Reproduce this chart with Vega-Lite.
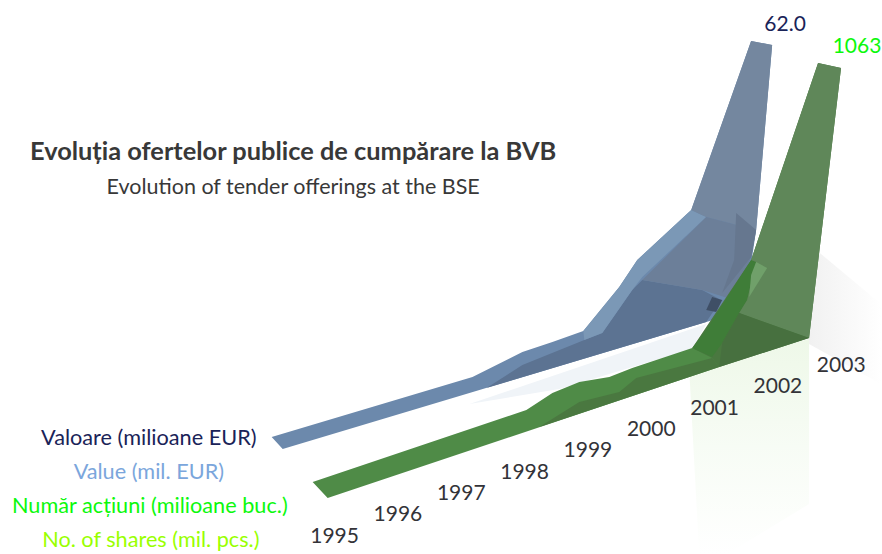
{"$schema":"https://vega.github.io/schema/vega-lite/v6.json","width":882,"height":554,"padding":0,"autosize":{"type":"fit","contains":"padding"},"background":"#ffffff","config":{"view":{"stroke":null}},
"resolve":{"scale":{"color":"independent"}},
"encoding":{"x":{"field":"year","type":"quantitative","scale":{"domain":[1989.716,2003.628],"nice":false,"zero":false},"axis":null},"y":{"field":"level","type":"quantitative","scale":{"domain":[0,110.8],"nice":false,"zero":false},"axis":null}},
"datasets":{
"faces":[
{"f":"b_base","i":1,"year":1994.006,"level":23.4},{"f":"b_base","i":2,"year":1997.177,"level":35.4},{"f":"b_base","i":3,"year":1997.965,"level":40.4},{"f":"b_base","i":4,"year":1998.439,"level":42.4},{"f":"b_base","i":5,"year":1998.927,"level":44.6},{"f":"b_base","i":6,"year":1999.495,"level":53.4},{"f":"b_base","i":7,"year":1999.779,"level":58.8},{"f":"b_base","i":8,"year":2000.631,"level":68.8},{"f":"b_base","i":9,"year":2001.577,"level":102.6},{"f":"b_base","i":10,"year":2001.909,"level":101.8},{"f":"b_base","i":11,"year":2001.656,"level":64.8},{"f":"b_base","i":12,"year":2001.467,"level":48.6},{"f":"b_base","i":13,"year":2000.868,"level":46.4},{"f":"b_base","i":14,"year":1997.287,"level":32.8},{"f":"b_base","i":15,"year":1994.180,"level":21},
{"f":"b_low","i":1,"year":1997.398,"level":33.2},{"f":"b_low","i":2,"year":1997.965,"level":37.8},{"f":"b_low","i":3,"year":1998.943,"level":42.8},{"f":"b_low","i":4,"year":1999.227,"level":44.2},{"f":"b_low","i":5,"year":1999.700,"level":52.8},{"f":"b_low","i":6,"year":1999.858,"level":54.8},{"f":"b_low","i":7,"year":2000.804,"level":52.8},{"f":"b_low","i":8,"year":2001.104,"level":50.8},{"f":"b_low","i":9,"year":2000.868,"level":46.4},
{"f":"b_top","i":1,"year":1998.927,"level":44.6},{"f":"b_top","i":2,"year":1999.495,"level":53.4},{"f":"b_top","i":3,"year":1999.779,"level":58.8},{"f":"b_top","i":4,"year":2000.631,"level":68.8},{"f":"b_top","i":5,"year":2000.868,"level":67.4},{"f":"b_top","i":6,"year":1999.858,"level":55.4},{"f":"b_top","i":7,"year":1999.700,"level":52.8},{"f":"b_top","i":8,"year":1999.227,"level":44.2},{"f":"b_top","i":9,"year":1998.943,"level":42.8},
{"f":"b_wall","i":1,"year":2000.631,"level":68.8},{"f":"b_wall","i":2,"year":2001.577,"level":102.6},{"f":"b_wall","i":3,"year":2001.909,"level":101.8},{"f":"b_wall","i":4,"year":2001.656,"level":64.8},{"f":"b_wall","i":5,"year":2000.868,"level":67.4},
{"f":"b_mid","i":1,"year":2000.868,"level":67.4},{"f":"b_mid","i":2,"year":2001.656,"level":64.8},{"f":"b_mid","i":3,"year":2001.577,"level":59.4},{"f":"b_mid","i":4,"year":2001.309,"level":50.8},{"f":"b_mid","i":5,"year":2000.804,"level":52.8},{"f":"b_mid","i":6,"year":1999.858,"level":54.8},
{"f":"b_band","i":1,"year":2001.341,"level":68.2},{"f":"b_band","i":2,"year":2001.656,"level":64.8},{"f":"b_band","i":3,"year":2001.577,"level":59.4},{"f":"b_band","i":4,"year":2001.120,"level":52.2},{"f":"b_band","i":5,"year":2001.309,"level":58.8},
{"f":"b_spot","i":1,"year":2000.962,"level":51.4},{"f":"b_spot","i":2,"year":2001.120,"level":50.8},{"f":"b_spot","i":3,"year":2001.025,"level":48.4},{"f":"b_spot","i":4,"year":2000.868,"level":48.8},
{"f":"g_base","i":1,"year":1994.653,"level":14.4},{"f":"g_base","i":2,"year":1998.028,"level":28.8},{"f":"g_base","i":3,"year":1998.439,"level":32.2},{"f":"g_base","i":4,"year":1998.864,"level":34.4},{"f":"g_base","i":5,"year":1999.338,"level":35.4},{"f":"g_base","i":6,"year":1999.700,"level":37.2},{"f":"g_base","i":7,"year":2000.647,"level":41.2},{"f":"g_base","i":8,"year":2001.073,"level":40.4},{"f":"g_base","i":9,"year":2001.073,"level":37.4},{"f":"g_base","i":10,"year":1994.890,"level":11.2},
{"f":"g_back","i":1,"year":2000.647,"level":41.2},{"f":"g_back","i":2,"year":2001.577,"level":58.8},{"f":"g_back","i":3,"year":2002.634,"level":98.2},{"f":"g_back","i":4,"year":2002.997,"level":97.2},{"f":"g_back","i":5,"year":2002.492,"level":43.2},{"f":"g_back","i":6,"year":2001.073,"level":37.4},{"f":"g_back","i":7,"year":2000.962,"level":39.2},
{"f":"g_front","i":1,"year":1998.233,"level":25.4},{"f":"g_front","i":2,"year":1998.864,"level":30.4},{"f":"g_front","i":3,"year":1999.495,"level":32.4},{"f":"g_front","i":4,"year":1999.763,"level":35.2},{"f":"g_front","i":5,"year":2000.962,"level":39.2},{"f":"g_front","i":6,"year":2001.073,"level":37.4},
{"f":"g_ridge","i":1,"year":2000.647,"level":41.2},{"f":"g_ridge","i":2,"year":2000.868,"level":44.8},{"f":"g_ridge","i":3,"year":2001.577,"level":58.8},{"f":"g_ridge","i":4,"year":2001.656,"level":58.4},{"f":"g_ridge","i":5,"year":2001.514,"level":50.8},{"f":"g_ridge","i":6,"year":2001.388,"level":48.2},{"f":"g_ridge","i":7,"year":2001.120,"level":42.2},{"f":"g_ridge","i":8,"year":2000.962,"level":39.4},
{"f":"g_wall","i":1,"year":2001.577,"level":58.8},{"f":"g_wall","i":2,"year":2002.634,"level":98.2},{"f":"g_wall","i":3,"year":2002.997,"level":97.2},{"f":"g_wall","i":4,"year":2002.492,"level":43.2},{"f":"g_wall","i":5,"year":2001.388,"level":48.2},{"f":"g_wall","i":6,"year":2001.514,"level":50.8},{"f":"g_wall","i":7,"year":2001.656,"level":58.4},
{"f":"g_facet","i":1,"year":2001.656,"level":58.4},{"f":"g_facet","i":2,"year":2001.830,"level":57.2},{"f":"g_facet","i":3,"year":2001.546,"level":51.4},{"f":"g_facet","i":4,"year":2001.577,"level":55.8},
{"f":"g_floor","i":1,"year":2001.388,"level":48.2},{"f":"g_floor","i":2,"year":2002.492,"level":43.2},{"f":"g_floor","i":3,"year":2001.073,"level":37.4},{"f":"g_floor","i":4,"year":2001.120,"level":42.2}
],
"shadowGrey":[{"i":1,"year":2002.492,"level":62},{"i":2,"year":2003.628,"level":50},{"i":3,"year":2003.628,"level":34},{"i":4,"year":2002.492,"level":42}],
"shadowGreen":[{"i":1,"year":2000.599,"level":37},{"i":2,"year":2002.492,"level":43},{"i":3,"year":2002.492,"level":10},{"i":4,"year":2001.200,"level":0},{"i":5,"year":2000.757,"level":0}],
"shadowBlue":[{"i":1,"year":1997.129,"level":30},{"i":2,"year":2000.868,"level":46},{"i":3,"year":2000.647,"level":41},{"i":4,"year":1998.549,"level":33}],
"years":[{"year":1995,"level":3.4,"t":"1995"},{"year":1996,"level":7.8,"t":"1996"},{"year":1997,"level":12,"t":"1997"},{"year":1998,"level":16.2,"t":"1998"},{"year":1999,"level":20.6,"t":"1999"},{"year":2000,"level":24.8,"t":"2000"},{"year":2001,"level":29,"t":"2001"},{"year":2002,"level":33.4,"t":"2002"},{"year":2003,"level":37.6,"t":"2003"}],
"legend":[{"year":1992.066,"level":23.2,"t":"Valoare (milioane EUR)","g":"a"},{"year":1992.066,"level":16.4,"t":"Value (mil. EUR)","g":"b"},{"year":1992.082,"level":9.6,"t":"Număr acțiuni (milioane buc.)","g":"c"},{"year":1992.098,"level":2.8,"t":"No. of shares (mil. pcs.)","g":"d"}],
"ends":[{"year":2002.114,"level":105.8,"t":"62.0","g":"a"},{"year":2003.249,"level":101.4,"t":"1063","g":"c"}]
},
"layer":[
{"data":{"name":"shadowGrey"},"mark":{"type":"line","filled":true,"strokeWidth":0,"fill":{"gradient":"linear","x1":0,"y1":0,"x2":1,"y2":0,"stops":[{"offset":0,"color":"#f1f1f1"},{"offset":1,"color":"#ffffff"}]}},"encoding":{"order":{"field":"i"}}},
{"data":{"name":"shadowGreen"},"mark":{"type":"line","filled":true,"strokeWidth":0,"fill":{"gradient":"linear","x1":0,"y1":0,"x2":0,"y2":1,"stops":[{"offset":0,"color":"#eef8e8"},{"offset":0.5,"color":"#f7fcf5"},{"offset":1,"color":"#ffffff"}]}},"encoding":{"order":{"field":"i"}}},
{"data":{"name":"shadowBlue"},"mark":{"type":"line","filled":true,"strokeWidth":0,"fill":"#f0f4f8"},"encoding":{"order":{"field":"i"}}},
{"data":{"name":"faces"},"mark":{"type":"line","filled":true,"strokeWidth":0},"encoding":{"order":{"field":"i"},"color":{"field":"f","type":"nominal","legend":null,"scale":{"domain":["b_base","b_low","b_top","b_wall","b_mid","b_band","b_spot","g_base","g_back","g_front","g_ridge","g_wall","g_facet","g_floor"],"range":["#6c89ac","#5c7392","#7b98b6","#74879f","#6c7f99","#66778f","#3f4f66","#4f8b47","#4a7840","#4a7840","#3f7d38","#5f8759","#70a06a","#47703f"]}}}},
{"data":{"name":"years"},"mark":{"type":"text","font":"Lato","fontSize":21,"color":"#333338","align":"center","baseline":"middle"},"encoding":{"text":{"field":"t"}}},
{"data":{"name":"legend"},"mark":{"type":"text","font":"Lato","fontSize":21.7,"align":"center","baseline":"middle"},"encoding":{"text":{"field":"t"},"color":{"field":"g","type":"nominal","legend":null,"scale":{"domain":["a","b","c","d"],"range":["#1a2358","#7ba6dc","#0cf80c","#99ff00"]}}}},
{"data":{"name":"ends"},"mark":{"type":"text","font":"Lato","fontSize":21,"align":"center","baseline":"middle"},"encoding":{"text":{"field":"t"},"color":{"field":"g","type":"nominal","legend":null,"scale":{"domain":["a","c"],"range":["#1a2358","#0cf80c"]}}}},
{"data":{"values":[{"year":1994.345,"level":80.4,"t":"Evoluția ofertelor publice de cumpărare la BVB"}]},"mark":{"type":"text","font":"Lato","fontSize":25.4,"fontWeight":"bold","color":"#383838","align":"center","baseline":"middle"},"encoding":{"text":{"field":"t"}}},
{"data":{"values":[{"year":1994.345,"level":73.2,"t":"Evolution of tender offerings at the BSE"}]},"mark":{"type":"text","font":"Lato","fontSize":21.5,"color":"#383838","align":"center","baseline":"middle"},"encoding":{"text":{"field":"t"}}}
]}
